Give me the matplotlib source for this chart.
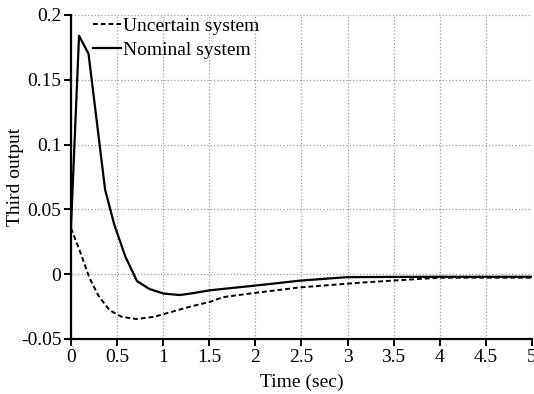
import numpy as np
import matplotlib
matplotlib.use('Agg')
import matplotlib.pyplot as plt

# Values
t_nominal = [0, 0.087, 0.19, 0.37, 0.47, 0.59, 0.716, 0.85, 1.0, 1.18, 1.3, 1.51, 2.05, 2.48, 2.99, 3.5, 4.0, 5.0]
y_nominal = [0.037, 0.184, 0.170, 0.065, 0.038, 0.0134, -0.0054, -0.0115, -0.015, -0.0162, -0.015, -0.0125, -0.0085, -0.0051, -0.0024, -0.0022, -0.0021, -0.0021]

t_uncertain = [0, 0.1, 0.2, 0.3, 0.42, 0.55, 0.71, 0.9, 1.1, 1.3, 1.51, 1.65, 2.0, 2.48, 3.13, 3.5, 4.0, 5.0]
y_uncertain = [0.0355, 0.017, -0.003, -0.017, -0.028, -0.033, -0.0347, -0.033, -0.029, -0.025, -0.0214, -0.0178, -0.0145, -0.0103, -0.0067, -0.005, -0.0028, -0.0028]

x_ticks = [0, 0.5, 1, 1.5, 2, 2.5, 3, 3.5, 4, 4.5, 5]
x_tick_labels = ['0', '0.5', '1', '1.5', '2', '2.5', '3', '3.5', '4', '4.5', '5']
y_ticks = [-0.05, 0, 0.05, 0.1, 0.15, 0.2]
y_tick_labels = ['-0.05', '0', '0.05', '0.1', '0.15', '0.2']

plt.rcParams['font.family'] = ['Liberation Serif', 'DejaVu Serif']

fig = plt.figure(figsize=(5.34, 3.94), dpi=100)
ax = fig.add_axes([0.133, 0.14, 0.863, 0.822])

ax.plot(t_uncertain, y_uncertain, 'k--', lw=1.4, dashes=(2.5, 1.5), label='Uncertain system')
ax.plot(t_nominal, y_nominal, 'k-', lw=1.6, label='Nominal system')

ax.set_xlim(0, 5)
ax.set_ylim(-0.05, 0.2)
ax.set_xticks(x_ticks)
ax.set_xticklabels(x_tick_labels)
ax.set_yticks(y_ticks)
ax.set_yticklabels(y_tick_labels)

ax.grid(True, color='#999999', linestyle=':', linewidth=0.9)
ax.spines['top'].set_visible(False)
ax.spines['right'].set_visible(False)
ax.spines['left'].set_linewidth(1.6)
ax.spines['bottom'].set_linewidth(1.6)
ax.tick_params(direction='out', length=5, width=1.4, labelsize=14, pad=2)

ax.set_xlabel('Time (sec)', fontsize=14, labelpad=6)
ax.set_ylabel('Third output', fontsize=14, labelpad=-2)

ax.legend(loc='upper left', bbox_to_anchor=(0.030, 1.018), frameon=False, fontsize=14,
          handlelength=1.45, handletextpad=0.1, labelspacing=0.33, borderaxespad=0)

fig.savefig('out.png', dpi=100)
